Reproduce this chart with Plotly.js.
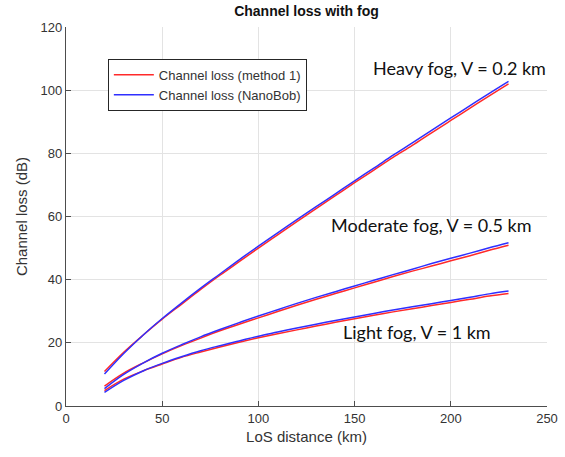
<!DOCTYPE html>
<html>
<head>
<meta charset="utf-8">
<script src="https://cdn.plot.ly/plotly-3.0.1.min.js"></script>
<style>html,body{margin:0;padding:0;background:#fff;}#chart{width:565px;height:457px;}</style>
</head>
<body>
<div id="chart"></div>
<script>
// LoS distance (km)
var distance = [20,30,40,50,60,70,80,90,100,110,120,130,140,150,160,170,180,190,200,210,220,230];

// Heavy fog, V = 0.2 km
var heavyMethod1 = [10.9,17.0,22.4,27.5,32.2,36.9,41.4,45.7,50.0,54.2,58.4,62.5,66.6,70.7,74.7,78.7,82.5,86.5,90.4,94.3,98.2,102.0];
var heavyNanoBob = [10.1,16.6,22.4,27.7,32.6,37.3,41.8,46.3,50.6,54.8,59.0,63.1,67.2,71.3,75.3,79.4,83.3,87.3,91.2,95.1,99.0,102.8];

// Moderate fog, V = 0.5 km
var moderateMethod1 = [6.3,10.4,13.6,16.5,19.1,21.5,23.8,25.9,27.9,29.9,31.9,33.8,35.6,37.4,39.2,41.0,42.7,44.3,46.0,47.6,49.3,50.9];
var moderateNanoBob = [5.5,10.0,13.6,16.7,19.4,21.9,24.2,26.4,28.5,30.5,32.5,34.4,36.2,38.0,39.8,41.6,43.3,45.1,46.8,48.4,50.1,51.7];

// Light fog, V = 1 km
var lightMethod1 = [4.9,8.5,11.1,13.3,15.4,17.1,18.7,20.2,21.6,22.9,24.1,25.3,26.5,27.6,28.7,29.8,30.8,31.8,32.8,33.8,34.8,35.6];
var lightNanoBob = [4.3,8.1,11.1,13.5,15.6,17.5,19.1,20.6,22.1,23.4,24.7,25.9,27.1,28.2,29.3,30.4,31.4,32.4,33.4,34.4,35.5,36.4];

var seriesNames = ["Channel loss (method 1)", "Channel loss (NanoBob)"];
var fogLabels = ["Heavy fog, V = 0.2 km", "Moderate fog, V = 0.5 km", "Light fog, V = 1 km"];

var RED = "#ff2a2a", BLUE = "#2f2fff";
function tr(y, isRed, show) {
  return {
    x: distance, y: y, type: "scatter", mode: "lines",
    name: isRed ? seriesNames[0] : seriesNames[1],
    legendgroup: isRed ? "m1" : "nb",
    showlegend: show,
    line: {color: isRed ? RED : BLUE, width: 1.5, shape: "spline", smoothing: 1},
    hoverinfo: "skip"
  };
}
var data = [
  tr(heavyMethod1, true, true), tr(heavyNanoBob, false, true),
  tr(moderateMethod1, true, false), tr(moderateNanoBob, false, false),
  tr(lightMethod1, true, false), tr(lightNanoBob, false, false)
];

var axisFont = {family: "Liberation Sans, Arial, sans-serif", size: 13, color: "#333333"};
var titleFont = {family: "Liberation Sans, Arial, sans-serif", size: 15, color: "#333333"};
var annFont = {family: "Lato, Noto Sans, sans-serif", size: 18, color: "#111111"};

var layout = {
  width: 565, height: 457,
  paper_bgcolor: "#ffffff", plot_bgcolor: "#ffffff",
  margin: {l: 66, r: 18, t: 27, b: 51, pad: 0},
  title: {text: "<b>Channel loss with fog</b>", x: 0.5, xref: "paper", y: 0.975, yanchor: "middle",
          font: {family: "Liberation Sans, Arial, sans-serif", size: 14, color: "#111111"}},
  xaxis: {
    range: [0, 250], tick0: 0, dtick: 50, showgrid: true, gridcolor: "#e3e3e3", gridwidth: 1,
    zeroline: false, showline: true, linecolor: "#4d4d4d", linewidth: 1.2,
    ticks: "inside", ticklen: 5, tickcolor: "#4d4d4d", tickfont: axisFont,
    title: {text: "LoS distance (km)", font: titleFont, standoff: 6}
  },
  yaxis: {
    range: [0, 120], tick0: 0, dtick: 20, showgrid: true, gridcolor: "#e3e3e3", gridwidth: 1,
    zeroline: false, showline: true, linecolor: "#4d4d4d", linewidth: 1.2,
    ticks: "inside", ticklen: 5, tickcolor: "#4d4d4d", tickfont: axisFont,
    title: {text: "Channel loss (dB)", font: titleFont, standoff: 9}
  },
  legend: {
    x: 0.087, y: 0.916, xanchor: "left", yanchor: "top",
    bgcolor: "#ffffff", bordercolor: "#262626", borderwidth: 1,
    font: {family: "Liberation Sans, Arial, sans-serif", size: 13, color: "#333333"},
    tracegroupgap: 0, itemwidth: 40
  },
  annotations: [
    {text: fogLabels[0], x: 204.3, y: 107.0, xref: "x", yref: "y", showarrow: false, font: annFont},
    {text: fogLabels[1], x: 189.7, y: 57.3, xref: "x", yref: "y", showarrow: false, font: annFont},
    {text: fogLabels[2], x: 182.4, y: 23.4, xref: "x", yref: "y", showarrow: false, font: annFont}
  ]
};

Plotly.newPlot("chart", data, layout, {staticPlot: true, displayModeBar: false});
</script>
</body>
</html>
